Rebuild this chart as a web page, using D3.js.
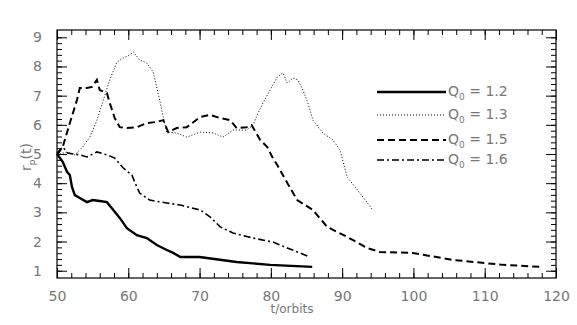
<!DOCTYPE html>
<html>
<head>
<meta charset="utf-8">
<script src="https://cdn.jsdelivr.net/npm/d3@7"></script>
<style>
  body { margin: 0; background: #fff; }
  text { font-family: "DejaVu Sans", sans-serif; fill: #777; }
</style>
</head>
<body>
<div id="chart"></div>
<script>
// values (t in orbits, r_p)
let t12 = [50, 50.8, 51.4, 51.8, 52.1, 52.5, 53.2, 54.2, 55, 56, 57, 57.9, 58.8, 59.8, 61.2, 62.6, 64, 65.4, 66.3, 67.3, 70, 75.2, 79.9, 85.8];
let r12 = [5.0, 4.73, 4.39, 4.28, 3.87, 3.59, 3.49, 3.35, 3.42, 3.39, 3.35, 3.08, 2.81, 2.46, 2.22, 2.12, 1.88, 1.71, 1.61, 1.47, 1.47, 1.3, 1.2, 1.13];

let t13 = [50, 51.4, 52.5, 53.6, 54.6, 55.6, 56.5, 57.4, 58.4, 59.3, 60.2, 60.7, 61.6, 62.6, 63.5, 64.4, 64.9, 65.4, 66.8, 68.2, 70.1, 71.9, 73.3, 74.7, 76.6, 77.5, 78.2, 78.9, 79.9, 80.9, 81.7, 82.3, 83.1, 83.8, 84.5, 85.2, 85.9, 87.3, 88.7, 89.7, 90.7, 92.5, 94.3];
let r13 = [4.97, 5.07, 4.97, 5.24, 5.58, 6.16, 6.85, 7.54, 8.15, 8.29, 8.39, 8.5, 8.22, 8.12, 7.81, 6.85, 6.27, 5.75, 5.72, 5.58, 5.75, 5.72, 5.58, 5.82, 5.82, 5.99, 6.4, 6.75, 7.19, 7.64, 7.78, 7.43, 7.6, 7.54, 7.19, 6.75, 6.16, 5.72, 5.48, 5.14, 4.21, 3.66, 3.08];

let t15 = [50, 50.8, 51.8, 52.8, 53.2, 54.2, 54.9, 55.6, 56, 57, 57.4, 58.1, 58.8, 59.8, 61.2, 62.6, 64, 64.9, 65.6, 66.8, 68.2, 70.1, 71.5, 72.9, 74.3, 75.2, 76.6, 77.3, 78.5, 79.5, 80.2, 80.9, 82.3, 83.7, 85.9, 87.9, 90.7, 93.5, 95.3, 99.9, 105.5, 112.6, 118];
let r15 = [4.97, 5.24, 6.06, 6.85, 7.26, 7.26, 7.3, 7.54, 7.19, 7.09, 6.75, 6.23, 5.92, 5.89, 5.92, 6.06, 6.1, 6.16, 5.75, 5.89, 5.92, 6.27, 6.34, 6.23, 6.16, 5.89, 5.92, 5.99, 5.48, 5.24, 4.9, 4.62, 4.01, 3.42, 3.08, 2.5, 2.16, 1.78, 1.64, 1.61, 1.37, 1.2, 1.13];

let t16 = [50, 50.8, 51.5, 53.2, 54.2, 55.6, 57, 58.1, 59.3, 60.5, 61.2, 61.6, 63, 65.4, 67.3, 70.1, 71.5, 72.9, 74.7, 77.5, 80.3, 82.3, 85.5];
let r16 = [5.03, 5.24, 5.03, 4.97, 4.9, 5.07, 4.97, 4.86, 4.52, 4.28, 3.87, 3.66, 3.42, 3.32, 3.25, 3.08, 2.84, 2.5, 2.29, 2.12, 1.98, 1.78, 1.47];

let qValues = ["1.2", "1.3", "1.5", "1.6"];
let xTicks = [50, 60, 70, 80, 90, 100, 110, 120];
let yTicks = [1, 2, 3, 4, 5, 6, 7, 8, 9];

let series = [
  { q: qValues[0], t: t12, r: r12, width: 2.4, dash: null },
  { q: qValues[1], t: t13, r: r13, width: 1, dash: "1,2" },
  { q: qValues[2], t: t15, r: r15, width: 2, dash: "7,4" },
  { q: qValues[3], t: t16, r: r16, width: 1.6, dash: "7,3,2,3" }
];

let fullWidth = 577;
let fullHeight = 325;
let plotLeft = 57, plotRight = 556, plotTop = 30, plotBottom = 278;

let svg = d3.select("#chart")
  .append("svg")
  .attr("width", fullWidth)
  .attr("height", fullHeight);

let xScale = d3.scaleLinear().domain([50, 120]).range([plotLeft, plotRight]);
let yScale = d3.scaleLinear().domain([0.75, 9.25]).range([plotBottom, plotTop]);

// frame
svg.append("rect")
  .attr("x", plotLeft)
  .attr("y", plotTop)
  .attr("width", plotRight - plotLeft)
  .attr("height", plotBottom - plotTop)
  .attr("fill", "none")
  .attr("stroke", "black")
  .attr("stroke-width", 1.2);

let xMinor = d3.range(50, 120.01, 2);
let yMinor = d3.range(1, 9.01, 0.2);

// bottom + top axes (ticks point inward)
svg.append("g")
  .attr("transform", "translate(0," + plotBottom + ")")
  .call(d3.axisBottom(xScale).tickValues(xMinor).tickSize(-5).tickFormat(""))
  .call(function(g) { g.select(".domain").remove(); });
svg.append("g")
  .attr("transform", "translate(0," + plotBottom + ")")
  .call(d3.axisBottom(xScale).tickValues(xTicks).tickSize(-10).tickPadding(13).tickFormat(d3.format("d")))
  .call(function(g) {
    g.select(".domain").remove();
    g.selectAll("text").style("font-size", "14px");
  });
svg.append("g")
  .attr("transform", "translate(0," + plotTop + ")")
  .call(d3.axisTop(xScale).tickValues(xMinor).tickSize(-5).tickFormat(""))
  .call(function(g) { g.select(".domain").remove(); });
svg.append("g")
  .attr("transform", "translate(0," + plotTop + ")")
  .call(d3.axisTop(xScale).tickValues(xTicks).tickSize(-10).tickFormat(""))
  .call(function(g) { g.select(".domain").remove(); });

// left + right axes
svg.append("g")
  .attr("transform", "translate(" + plotLeft + ",0)")
  .call(d3.axisLeft(yScale).tickValues(yMinor).tickSize(-5).tickFormat(""))
  .call(function(g) { g.select(".domain").remove(); });
svg.append("g")
  .attr("transform", "translate(" + plotLeft + ",0)")
  .call(d3.axisLeft(yScale).tickValues(yTicks).tickSize(-10).tickPadding(15).tickFormat(d3.format("d")))
  .call(function(g) {
    g.select(".domain").remove();
    g.selectAll("text").style("font-size", "14px");
  });
svg.append("g")
  .attr("transform", "translate(" + plotRight + ",0)")
  .call(d3.axisRight(yScale).tickValues(yMinor).tickSize(-5).tickFormat(""))
  .call(function(g) { g.select(".domain").remove(); });
svg.append("g")
  .attr("transform", "translate(" + plotRight + ",0)")
  .call(d3.axisRight(yScale).tickValues(yTicks).tickSize(-10).tickFormat(""))
  .call(function(g) { g.select(".domain").remove(); });

svg.selectAll(".tick line").attr("stroke", "black");

// lines
let line = d3.line()
  .x(function(d) { return xScale(d[0]); })
  .y(function(d) { return yScale(d[1]); });

series.forEach(function(s) {
  let pts = s.t.map(function(t, i) { return [t, s.r[i]]; });
  svg.append("path")
    .datum(pts)
    .attr("d", line)
    .attr("fill", "none")
    .attr("stroke", "black")
    .attr("stroke-width", s.width)
    .attr("stroke-dasharray", s.dash);
});

// legend
let legend = svg.append("g").attr("transform", "translate(377,92)");
series.forEach(function(s, i) {
  let yy = [0, 23, 48, 68][i];
  legend.append("line")
    .attr("x1", 0).attr("x2", 69)
    .attr("y1", yy).attr("y2", yy)
    .attr("stroke", "black")
    .attr("stroke-width", s.width)
    .attr("stroke-dasharray", s.dash);
  let txt = legend.append("text")
    .attr("x", 71)
    .attr("y", yy + 4)
    .style("font-size", "14px");
  txt.append("tspan").text("Q");
  txt.append("tspan").attr("dy", 4).style("font-size", "9px").text("0");
  txt.append("tspan").attr("dy", -4).text(" = " + s.q);
});

// axis titles
svg.append("text")
  .attr("x", 292)
  .attr("y", 313)
  .attr("text-anchor", "middle")
  .style("font-size", "12px")
  .text("t/orbits");

let ylab = svg.append("text")
  .attr("transform", "translate(31,157) rotate(-90)")
  .attr("text-anchor", "middle")
  .style("font-size", "14px");
ylab.append("tspan").text("r");
ylab.append("tspan").attr("dy", 4).style("font-size", "9px").text("p");
ylab.append("tspan").attr("dy", -4).text("(t)");
</script>
</body>
</html>
